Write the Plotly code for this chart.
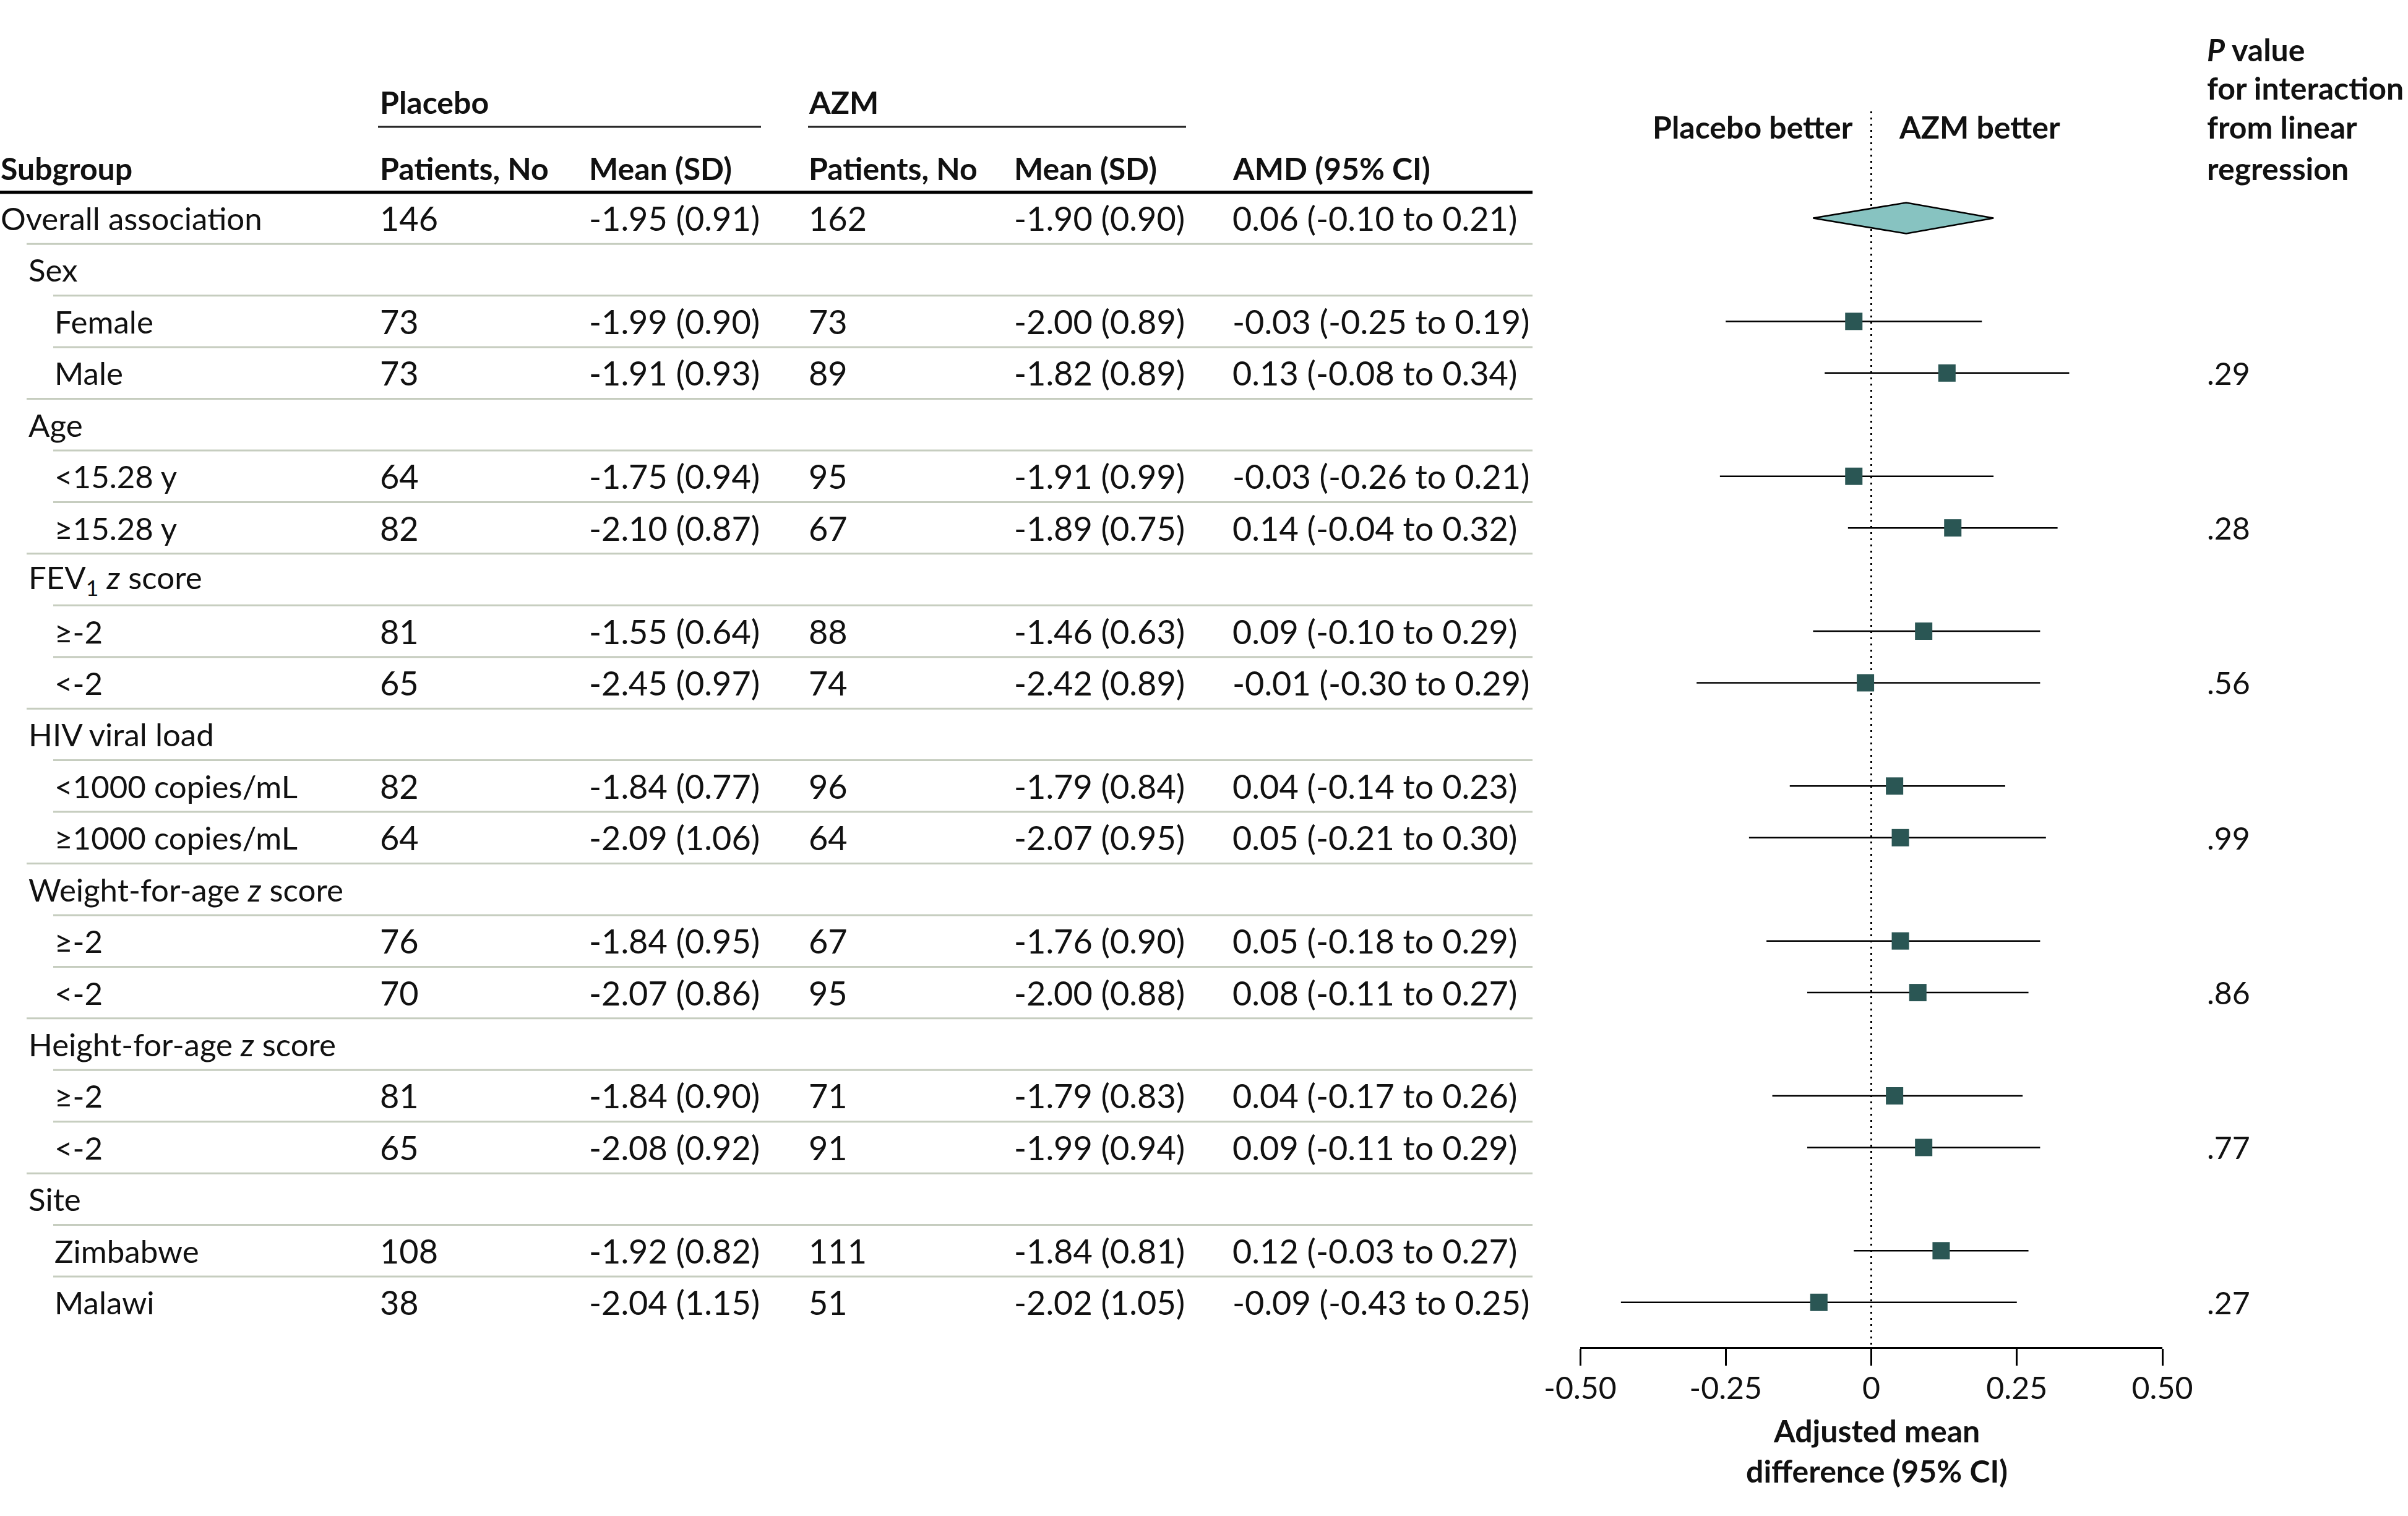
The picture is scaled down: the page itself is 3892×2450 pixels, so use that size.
import plotly.graph_objects as go

# ---------------- data ----------------
subgroups = ["Overall association", "Sex", "Female", "Male", "Age", "<15.28 y", "≥15.28 y",
             "FEV<sub>1</sub> <i>z</i> score", "≥-2", "<-2", "HIV viral load", "<1000 copies/mL",
             "≥1000 copies/mL", "Weight-for-age <i>z</i> score", "≥-2", "<-2",
             "Height-for-age <i>z</i> score", "≥-2", "<-2", "Site", "Zimbabwe", "Malawi"]
row_kind = ["overall", "header", "item", "item", "header", "item", "item", "header", "item", "item",
            "header", "item", "item", "header", "item", "item", "header", "item", "item",
            "header", "item", "item"]
placebo_n = ["146", "", "73", "73", "", "64", "82", "", "81", "65", "", "82", "64", "", "76", "70",
             "", "81", "65", "", "108", "38"]
placebo_mean = ["-1.95 (0.91)", "", "-1.99 (0.90)", "-1.91 (0.93)", "", "-1.75 (0.94)", "-2.10 (0.87)",
                "", "-1.55 (0.64)", "-2.45 (0.97)", "", "-1.84 (0.77)", "-2.09 (1.06)", "",
                "-1.84 (0.95)", "-2.07 (0.86)", "", "-1.84 (0.90)", "-2.08 (0.92)", "",
                "-1.92 (0.82)", "-2.04 (1.15)"]
azm_n = ["162", "", "73", "89", "", "95", "67", "", "88", "74", "", "96", "64", "", "67", "95",
         "", "71", "91", "", "111", "51"]
azm_mean = ["-1.90 (0.90)", "", "-2.00 (0.89)", "-1.82 (0.89)", "", "-1.91 (0.99)", "-1.89 (0.75)",
            "", "-1.46 (0.63)", "-2.42 (0.89)", "", "-1.79 (0.84)", "-2.07 (0.95)", "",
            "-1.76 (0.90)", "-2.00 (0.88)", "", "-1.79 (0.83)", "-1.99 (0.94)", "",
            "-1.84 (0.81)", "-2.02 (1.05)"]
amd = [0.06, None, -0.03, 0.13, None, -0.03, 0.14, None, 0.09, -0.01, None, 0.04, 0.05, None,
       0.05, 0.08, None, 0.04, 0.09, None, 0.12, -0.09]
ci_low = [-0.10, None, -0.25, -0.08, None, -0.26, -0.04, None, -0.10, -0.30, None, -0.14, -0.21,
          None, -0.18, -0.11, None, -0.17, -0.11, None, -0.03, -0.43]
ci_high = [0.21, None, 0.19, 0.34, None, 0.21, 0.32, None, 0.29, 0.29, None, 0.23, 0.30, None,
           0.29, 0.27, None, 0.26, 0.29, None, 0.27, 0.25]
p_interaction = ["", "", "", ".29", "", "", ".28", "", "", ".56", "", "", ".99", "", "", ".86",
                 "", "", ".77", "", "", ".27"]
tick_vals = [-0.5, -0.25, 0, 0.25, 0.5]
tick_text = ["-0.50", "-0.25", "0", "0.25", "0.50"]

# ---------------- geometry (pixels) ----------------
W, H = 3892, 2450
ROW0_PX, ROW_STEP = 352.5, 83.44
FONT = "Lato, 'Source Sans Pro', Roboto, 'Noto Sans', sans-serif"
FS = 50        # headers, ticks, p values
FS_LABEL = 51  # subgroup labels
FS_NUM = 54    # table numbers
INK = "#111111"
SQUARE = "#2a5654"
DIAMOND = "#87c3c1"
SEP = "#c6cdbf"


def prow(py):
    return (py - ROW0_PX) / ROW_STEP


def px(x):
    return x / W


n = len(subgroups)
rows = list(range(n))

fig = go.Figure()

# CI lines
lx, ly = [], []
for i in rows:
    if row_kind[i] == "item":
        lx += [ci_low[i], ci_high[i], None]
        ly += [i, i, None]
fig.add_trace(go.Scatter(x=lx, y=ly, mode="lines", line=dict(color="black", width=2.5),
                         hoverinfo="skip"))
# squares
sx = [amd[i] for i in rows if row_kind[i] == "item"]
sy = [i for i in rows if row_kind[i] == "item"]
fig.add_trace(go.Scatter(x=sx, y=sy, mode="markers",
                         marker=dict(symbol="square", size=28, color=SQUARE, line=dict(width=0))))
# diamond (overall)
dh = 0.30
fig.add_trace(go.Scatter(x=[ci_low[0], amd[0], ci_high[0], amd[0], ci_low[0]],
                         y=[0, -dh, 0, dh, 0], mode="lines", fill="toself",
                         fillcolor=DIAMOND, line=dict(color="black", width=2.5)))

shapes = []
# zero reference line (dotted)
shapes.append(dict(type="line", xref="x", yref="y", x0=0, x1=0, y0=prow(180), y1=prow(2178),
                   line=dict(color="black", width=3, dash="3px,7px"), layer="below"))
# header rules
shapes.append(dict(type="line", xref="paper", yref="y", x0=0, x1=px(2477),
                   y0=prow(310.7), y1=prow(310.7), line=dict(color="black", width=5)))
for a, b in [(611, 1230), (1306, 1917)]:
    shapes.append(dict(type="line", xref="paper", yref="y", x0=px(a), x1=px(b),
                       y0=prow(205), y1=prow(205), line=dict(color="#222222", width=3)))
# row separators
for i in range(n - 1):
    start = 43 if (row_kind[i] == "overall" or row_kind[i + 1] == "header") else 86
    shapes.append(dict(type="line", xref="paper", yref="y", x0=px(start), x1=px(2477),
                       y0=i + 0.5, y1=i + 0.5, line=dict(color=SEP, width=3)))

ann = []


def add_text(x, y, text, anchor="left", bold=False, size=FS):
    ann.append(dict(x=px(x), y=y, xref="paper", yref="y", text=("<b>%s</b>" % text) if bold else text,
                    showarrow=False, xanchor=anchor, yanchor="middle", borderpad=0,
                    font=dict(family=FONT, size=size, color=INK)))


# header texts
add_text(613, prow(165), "Placebo", bold=True)
add_text(1306, prow(165), "AZM", bold=True)
hy = prow(272)
add_text(0, hy, "Subgroup", bold=True)
add_text(613, hy, "Patients, No", bold=True)
add_text(951, hy, "Mean (SD)", bold=True)
add_text(1306, hy, "Patients, No", bold=True)
add_text(1638, hy, "Mean (SD)", bold=True)
add_text(1991, hy, "AMD (95% CI)", bold=True)
add_text(2996, prow(205), "Placebo better", anchor="right", bold=True)
add_text(3068, prow(205), "AZM better", bold=True)
for yy, t in zip([80, 142, 205, 272], ["<i>P</i> value", "for interaction", "from linear", "regression"]):
    add_text(3566, prow(yy), t, bold=True)
add_text(3033, prow(2312), "Adjusted mean", anchor="center", bold=True)
add_text(3033, prow(2377), "difference (95% CI)", anchor="center", bold=True)

# table body
indent = {"overall": 0, "header": 45, "item": 87}
for i in rows:
    add_text(indent[row_kind[i]], i, subgroups[i], size=FS_LABEL)
    if row_kind[i] != "header":
        add_text(613, i, placebo_n[i], size=FS_NUM)
        add_text(951, i, placebo_mean[i], size=FS_NUM)
        add_text(1306, i, azm_n[i], size=FS_NUM)
        add_text(1638, i, azm_mean[i], size=FS_NUM)
        add_text(1991, i, "%.2f (%.2f to %.2f)" % (amd[i], ci_low[i], ci_high[i]), size=FS_NUM)
    if p_interaction[i]:
        add_text(3566, i, p_interaction[i])

top_val = -ROW0_PX / ROW_STEP
bottom_val = top_val + H / ROW_STEP

fig.update_layout(
    width=W, height=H, margin=dict(l=0, r=0, t=0, b=0, pad=0, autoexpand=False),
    paper_bgcolor="white", plot_bgcolor="rgba(0,0,0,0)", showlegend=False,
    font=dict(family=FONT, size=FS, color=INK),
    shapes=shapes, annotations=ann,
    xaxis=dict(domain=[px(2554), px(3495)], range=[-0.5, 0.5], anchor="free",
               position=1 - 2178 / H, side="bottom", showline=True, linecolor="black",
               linewidth=3, ticks="outside", ticklen=27, tickwidth=2.5, tickcolor="black",
               tickvals=tick_vals, ticktext=tick_text, showgrid=False, zeroline=False,
               ticklabelstandoff=-6, automargin=False,
               tickfont=dict(family=FONT, size=FS, color=INK)),
    yaxis=dict(domain=[0, 1], range=[bottom_val, top_val], visible=False, showgrid=False,
               zeroline=False, automargin=False),
)

fig.write_html("out.html", config={"displayModeBar": False},
               post_script="document.body.style.margin='0';document.body.style.padding='0';")
